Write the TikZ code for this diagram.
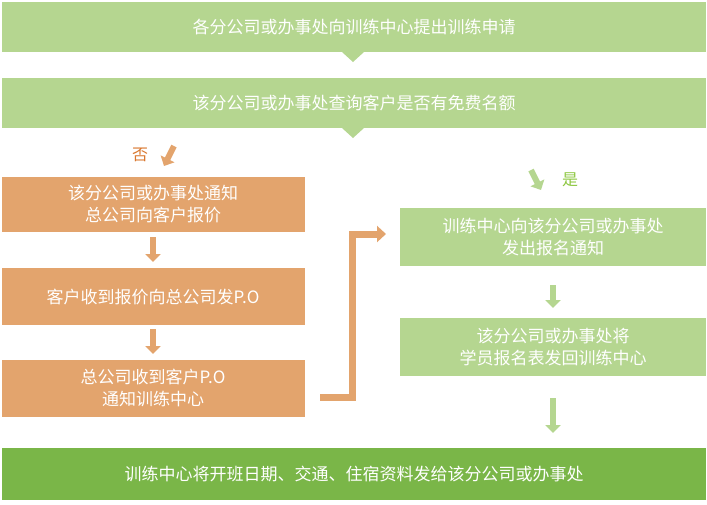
\documentclass[tikz,border=0pt]{standalone}
\usepackage{fontspec}
\newfontfamily\cjk{Noto Sans CJK SC}
\usetikzlibrary{arrows.meta}
\definecolor{Lgreen}{HTML}{B5D690}
\definecolor{Dgreen}{HTML}{7AB648}
\definecolor{Orng}{HTML}{E3A46D}
\definecolor{NoTxt}{HTML}{D9772E}
\definecolor{YesTxt}{HTML}{8CC63F}
\tikzset{
  box/.style={inner sep=0pt, text=white, font=\cjk\fontsize{17}{22}\selectfont, align=center},
  flow/.style={line width=6pt, -{Triangle[length=8pt,width=15pt]}},
}
\begin{document}
\begin{tikzpicture}[x=1pt, y=-1pt]
 \useasboundingbox (0,0) rectangle (707,504) ;

 %%%%%%%%%% Bars %%%%%%%%%%
 \fill [Lgreen] (2,2) rectangle (706,52) ;
 \fill [Lgreen] (342,52) -- (364,52) -- (353,62) -- cycle ;
 \node [box] (ask) at (354,27) {各分公司或办事处向训练中心提出训练申请} ;

 \fill [Lgreen] (2,78) rectangle (706,128) ;
 \fill [Lgreen] (342,128) -- (364,128) -- (353,138) -- cycle ;
 \node [box] (free) at (354,103) {该分公司或办事处查询客户是否有免费名额} ;

 % Left column
 \fill [Orng] (2,177) rectangle (305,232) ;
 \node [box] (l1) at (153,204) {该分公司或办事处通知\\总公司向客户报价} ;
 \fill [Orng] (2,268) rectangle (305,325) ;
 \node [box] (l2) at (153,297) {客户收到报价向总公司发P.O} ;
 \fill [Orng] (2,360) rectangle (305,417) ;
 \node [box] (l3) at (153,388) {总公司收到客户P.O\\通知训练中心} ;

 % Right column
 \fill [Lgreen] (400,208) rectangle (706,266) ;
 \node [box] (r1) at (553,237) {训练中心向该分公司或办事处\\发出报名通知} ;
 \fill [Lgreen] (400,318) rectangle (706,376) ;
 \node [box] (r2) at (553,347) {该分公司或办事处将\\学员报名表发回训练中心} ;

 \fill [Dgreen] (2,448) rectangle (706,500) ;
 \node [box] (end) at (354,474) {训练中心将开班日期、交通、住宿资料发给该分公司或办事处} ;

 %%%%%%%%%% Arrows %%%%%%%%%%
 \node [font=\cjk\fontsize{16}{18}\selectfont, text=NoTxt] (no) at (140,155) {否} ;
 \node [font=\cjk\fontsize{16}{18}\selectfont, text=YesTxt] (yes) at (570,180) {是} ;
 \draw [flow, Orng] (174,146) -- (164,166) ;
 \draw [flow, Lgreen] (531,170) -- (541,190) ;

 \draw [flow, Orng] (153,237) -- (153,262) ;
 \draw [flow, Orng] (153,329) -- (153,354) ;
 \draw [flow, Lgreen] (553,285) -- (553,308) ;
 \draw [flow, Lgreen] (553,398) -- (553,433) ;

 \draw [line width=7pt, Orng, -{Triangle[length=9pt,width=16pt]}, line join=miter]
   (320,397) -- (352,397) -- (352,234) -- (386,234) ;
\end{tikzpicture}
\end{document}
